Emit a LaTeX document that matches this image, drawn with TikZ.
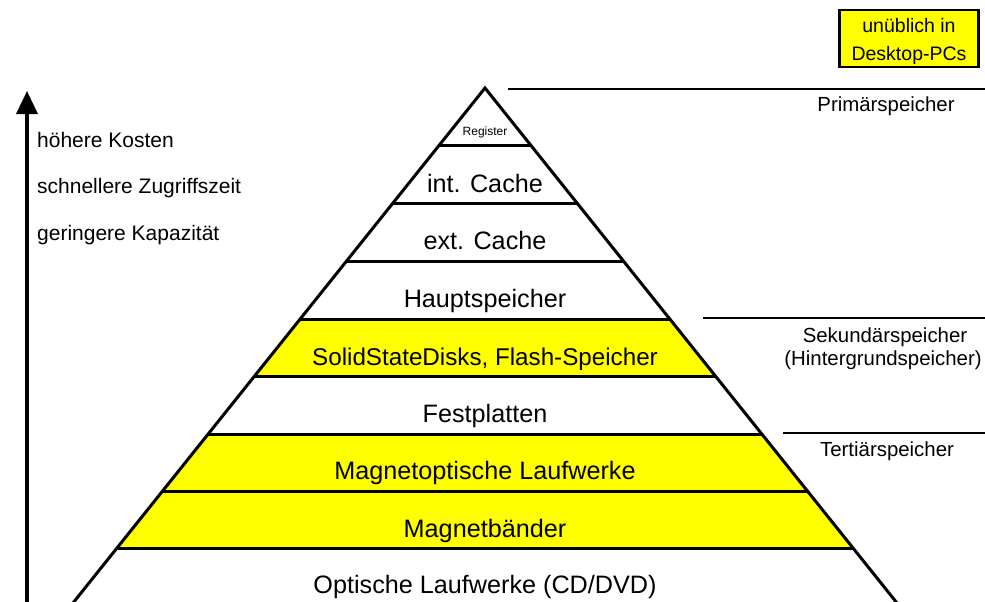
\documentclass[tikz,border=0pt]{standalone}
\usepackage{fontspec}
\setmainfont{Liberation Sans}
\usetikzlibrary{arrows.meta}
\definecolor{hotyellow}{RGB}{255,255,0}
\begin{document}
\begin{tikzpicture}[x=1pt,y=-1pt,
  layer/.style={font=\fontsize{25.2}{29}\selectfont, anchor=base, inner sep=0pt},
  smalllayer/.style={font=\fontsize{12}{14}\selectfont, anchor=base, inner sep=0pt},
  side/.style={font=\fontsize{20.4}{24}\selectfont, anchor=base, inner sep=0pt},
  sidewest/.style={font=\fontsize{21}{24}\selectfont, inner sep=0pt, anchor=base west},
  legendtxt/.style={font=\fontsize{19.5}{23}\selectfont, anchor=base, inner sep=0pt},
  pedge/.style={line width=3pt, line join=miter, miter limit=20},
  plevel/.style={line width=3pt},
  tier/.style={line width=2pt},
  hot/.style={fill=hotyellow},
]
\useasboundingbox (0,0) rectangle (985,602);
\clip (0,0) rectangle (985,602);

% pyramid geometry: apex (485,88), half width = 0.8*(y-88)
\coordinate (A)  at (485,88);
\coordinate (L1) at (439.4,145); \coordinate (R1) at (530.6,145);
\coordinate (L2) at (393.0,203); \coordinate (R2) at (577.0,203);
\coordinate (L3) at (346.6,261); \coordinate (R3) at (623.4,261);
\coordinate (L4) at (300.2,319); \coordinate (R4) at (669.8,319);
\coordinate (L5) at (254.6,376); \coordinate (R5) at (715.4,376);
\coordinate (L6) at (208.2,434); \coordinate (R6) at (761.8,434);
\coordinate (L7) at (162.6,491); \coordinate (R7) at (807.4,491);
\coordinate (L8) at (117.0,548); \coordinate (R8) at (853.0,548);
\coordinate (L9) at (67.4,610);  \coordinate (R9) at (902.6,610);

% yellow bands
\fill[hot] (L4) -- (R4) -- (R5) -- (L5) -- cycle;
\fill[hot] (L6) -- (R6) -- (R8) -- (L8) -- cycle;

% level lines
\foreach \i in {1,...,8} \draw[plevel] (L\i) -- (R\i);

% pyramid sides
\draw[pedge] (L9) -- (A) -- (R9);

% layer labels
\node[smalllayer] (reg)  at (485,135) {Register};
\node[layer] (intc) at (485,192) {int. Cache};
\node[layer] (extc) at (485,249) {ext. Cache};
\node[layer] (haupt) at (485,307) {Hauptspeicher};
\node[layer, font=\fontsize{24.2}{29}\selectfont] (ssd)  at (485,365) {SolidStateDisks, Flash-Speicher};
\node[layer] (fest) at (485,422) {Festplatten};
\node[layer] (mo)   at (485,479) {Magnetoptische Laufwerke};
\node[layer] (mb)   at (485,537) {Magnetbänder};
\node[layer] (opt)  at (485,593) {Optische Laufwerke (CD/DVD)};

% tier separators
\coordinate (t1a) at (508,89);  \coordinate (t1b) at (990,89);
\coordinate (t2a) at (703,318); \coordinate (t2b) at (990,318);
\coordinate (t3a) at (783,433); \coordinate (t3b) at (990,433);
\draw[tier] (t1a) -- (t1b);
\draw[tier] (t2a) -- (t2b);
\draw[tier] (t3a) -- (t3b);

\node[side] (prim) at (886,111.5) {Primärspeicher};
\node[side] (sek)  at (885,342.5) {Sekundärspeicher};
\node[side] (hint) at (883,365) {(Hintergrundspeicher)};
\node[side] (tert) at (887,456) {Tertiärspeicher};

% arrow
\coordinate (arrfoot) at (27,615);
\coordinate (arrtip)  at (27,91);
\draw[line width=3.5pt, -{Triangle[width=21pt,length=23pt]}] (arrfoot) -- (arrtip);

\node[sidewest] (kosten) at (37,147) {höhere Kosten};
\node[sidewest] (zeit)   at (37,193) {schnellere Zugriffszeit};
\node[sidewest] (kap)    at (37,240) {geringere Kapazität};

% legend
\node[draw, hot, line width=2.5pt, minimum width=139pt, minimum height=57pt, inner sep=0pt] (legend) at (909,38.5) {};
\node[legendtxt] (leg1) at (909,33) {unüblich in};
\node[legendtxt] (leg2) at (909,60) {Desktop-PCs};
\end{tikzpicture}
\end{document}
